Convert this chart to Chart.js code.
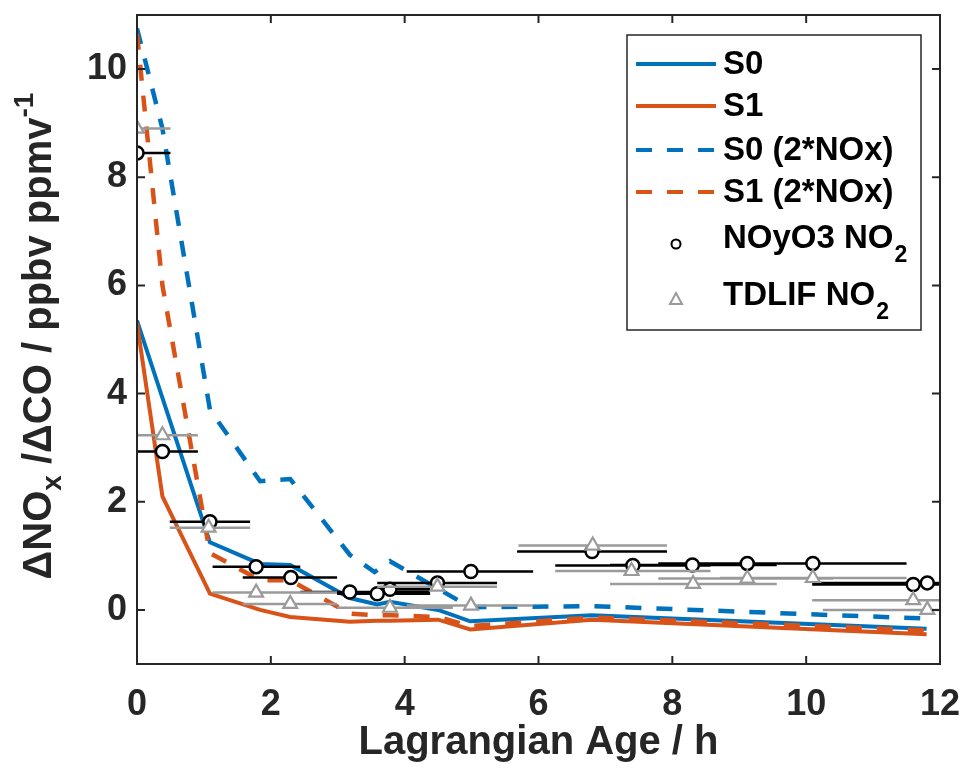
<!DOCTYPE html>
<html>
<head>
<meta charset="utf-8">
<script src="https://cdn.jsdelivr.net/npm/chart.js@4.4.1/dist/chart.umd.min.js"></script>
<style>
html, body { margin: 0; padding: 0; background: #fff; }
</style>
</head>
<body>
<canvas id="noxChart" width="966" height="771"></canvas>
<script>
// model runs (x = Lagrangian age in h)
var s0Age  = [0, 1.09, 1.84, 2.29, 3.18, 3.59, 3.78, 4.5, 4.98, 6.8, 11.8];
var s0Val  = [5.35, 1.25, 0.85, 0.83, 0.22, 0.1, 0.15, 0.0, -0.21, -0.1, -0.35];
var s1Age  = [0, 0.38, 1.09, 1.84, 2.29, 3.18, 3.59, 3.78, 4.5, 4.98, 6.8, 11.8];
var s1Val  = [5.3, 2.1, 0.3, 0.0, -0.13, -0.22, -0.2, -0.2, -0.18, -0.36, -0.18, -0.45];
var s0dAge = [0, 0.38, 1.09, 1.84, 2.29, 3.18, 3.55, 3.78, 4.98, 6.8, 11.8];
var s0dVal = [10.75, 8.9, 3.7, 2.38, 2.42, 1.02, 0.7, 0.9, 0.05, 0.07, -0.16];
var s1dAge = [0, 0.38, 1.09, 1.84, 2.29, 3.18, 3.59, 3.78, 4.5, 4.98, 6.8, 11.8];
var s1dVal = [10.65, 6.0, 1.05, 0.55, 0.55, -0.07, -0.1, -0.1, -0.13, -0.3, -0.14, -0.38];

// NOyO3 NO2 observations, with age range
var noyAge = [0, 0.38, 1.09, 1.78, 2.3, 3.18, 3.59, 3.78, 4.49, 4.99, 6.8, 7.41, 8.3, 9.12, 10.1, 11.6, 11.81];
var noyVal = [8.45, 2.93, 1.63, 0.8, 0.6, 0.33, 0.3, 0.38, 0.5, 0.71, 1.08, 0.82, 0.83, 0.86, 0.86, 0.47, 0.5];
var noyLo  = [0, 0, 0.49, 1.13, 1.58, 2.44, 2.99, 3.59, 3.59, 4.03, 5.68, 6.25, 7.07, 7.79, 8.71, 10.09, 10.09];
var noyHi  = [0.5, 0.91, 1.69, 2.44, 2.99, 4.38, 4.38, 4.38, 5.38, 5.92, 7.92, 8.57, 9.56, 10.4, 11.5, 12, 12];

// TDLIF NO2 observations
var tdAge = [0, 0.38, 1.07, 1.78, 2.29, 3.78, 4.49, 4.99, 6.81, 7.39, 8.31, 9.12, 10.1, 11.6, 11.81];
var tdVal = [8.9, 3.23, 1.52, 0.32, 0.11, 0.04, 0.43, 0.08, 1.19, 0.72, 0.48, 0.58, 0.59, 0.18, 0.0];
var tdLo  = [0, 0, 0.49, 1.13, 1.58, 2.99, 3.59, 4.03, 5.7, 6.25, 7.07, 7.79, 8.71, 10.09, 10.25];
var tdHi  = [0.5, 0.91, 1.69, 2.99, 2.99, 4.72, 5.38, 5.92, 7.92, 8.57, 9.56, 10.4, 11.5, 12, 12];

var xTicks = [0, 2, 4, 6, 8, 10, 12];
var yTicks = [0, 2, 4, 6, 8, 10];

var blue = "#0072BD";
var orange = "#D95319";
var grey = "#9a9a9a";
var FONT = "'Liberation Sans', Arial, sans-serif";

function pts(xs, ys) {
    var out = [];
    for (var i = 0; i < xs.length; i++) out.push({x: xs[i], y: ys[i]});
    return out;
}
// horizontal error bars, segments split by null
function bars(lo, hi, ys) {
    var out = [];
    for (var i = 0; i < ys.length; i++) {
        out.push({x: lo[i], y: ys[i]});
        out.push({x: hi[i], y: ys[i]});
        out.push({x: hi[i], y: null});
    }
    return out;
}

var matlabAxes = {
    id: "matlabAxes",
    afterDatasetsDraw: function (chart) {
        var ctx = chart.ctx, a = chart.chartArea;
        var xs = chart.scales.x, ys = chart.scales.y;
        ctx.save();
        ctx.strokeStyle = "#262626";
        ctx.lineWidth = 2;
        ctx.beginPath();
        xTicks.forEach(function (v) {
            var px = xs.getPixelForValue(v);
            ctx.moveTo(px, a.bottom); ctx.lineTo(px, a.bottom - 8);
            ctx.moveTo(px, a.top); ctx.lineTo(px, a.top + 8);
        });
        yTicks.forEach(function (v) {
            var py = ys.getPixelForValue(v);
            ctx.moveTo(a.left, py); ctx.lineTo(a.left + 8, py);
            ctx.moveTo(a.right, py); ctx.lineTo(a.right - 8, py);
        });
        ctx.stroke();
        ctx.strokeRect(a.left, a.top, a.right - a.left, a.bottom - a.top);
        ctx.restore();
    },
    afterDraw: function (chart) {
        var ctx = chart.ctx;
        // y axis title with sub/superscript
        ctx.save();
        ctx.translate(40, 336);
        ctx.rotate(-Math.PI / 2);
        ctx.fillStyle = "#262626";
        ctx.textBaseline = "middle";
        var parts = [
            {t: "\u0394NO", f: "bold 40px " + FONT, dy: 0},
            {t: "x", f: "bold 28px " + FONT, dy: 13},
            {t: " /\u0394CO / ppbv ppmv", f: "bold 40px " + FONT, dy: 0},
            {t: "-1", f: "bold 28px " + FONT, dy: -15}
        ];
        var total = 0;
        parts.forEach(function (p) { ctx.font = p.f; p.w = ctx.measureText(p.t).width; total += p.w; });
        var cx = -total / 2;
        parts.forEach(function (p) { ctx.font = p.f; ctx.fillText(p.t, cx, p.dy); cx += p.w; });
        ctx.restore();

        // legend
        ctx.save();
        ctx.fillStyle = "#fff";
        ctx.fillRect(627, 35, 294, 295);
        ctx.strokeStyle = "#262626";
        ctx.lineWidth = 1.5;
        ctx.strokeRect(627, 35, 294, 295);
        var rows = [
            {label: "S0", color: blue, dash: [], y: 64},
            {label: "S1", color: orange, dash: [], y: 106},
            {label: "S0 (2*NOx)", color: blue, dash: [16, 15], y: 150},
            {label: "S1 (2*NOx)", color: orange, dash: [16, 15], y: 192}
        ];
        ctx.font = "bold 33px " + FONT;
        ctx.textBaseline = "middle";
        rows.forEach(function (r) {
            ctx.strokeStyle = r.color;
            ctx.lineWidth = 4;
            ctx.setLineDash(r.dash);
            ctx.beginPath();
            ctx.moveTo(636, r.y); ctx.lineTo(716, r.y);
            ctx.stroke();
            ctx.setLineDash([]);
            ctx.fillStyle = "#000";
            ctx.fillText(r.label, 723, r.y + 1);
        });
        // circle marker row
        ctx.strokeStyle = "#000";
        ctx.lineWidth = 2;
        ctx.beginPath();
        ctx.arc(676, 244, 4.5, 0, 2 * Math.PI);
        ctx.stroke();
        // triangle marker row
        ctx.strokeStyle = grey;
        ctx.beginPath();
        ctx.moveTo(676, 293); ctx.lineTo(682, 304); ctx.lineTo(670, 304); ctx.closePath();
        ctx.stroke();
        ctx.fillStyle = "#000";
        var subRows = [{t: "NOyO3 NO", y: 239}, {t: "TDLIF NO", y: 296}];
        subRows.forEach(function (r) {
            ctx.font = "bold 33px " + FONT;
            ctx.fillText(r.t, 723, r.y);
            var w = ctx.measureText(r.t).width;
            ctx.font = "bold 23px " + FONT;
            ctx.fillText("2", 723 + w + 1, r.y + 17);
        });
        ctx.restore();
    }
};

var ctx = document.getElementById("noxChart").getContext("2d");
var noxChart = new Chart(ctx, {
    type: "scatter",
    data: {
        datasets: [
            {label: "S0", type: "line", data: pts(s0Age, s0Val), borderColor: blue, borderWidth: 4, pointRadius: 0, fill: false, order: 10},
            {label: "S1", type: "line", data: pts(s1Age, s1Val), borderColor: orange, borderWidth: 4, pointRadius: 0, fill: false, order: 9},
            {label: "S0 (2*NOx)", type: "line", data: pts(s0dAge, s0dVal), borderColor: blue, borderWidth: 4.5, borderDash: [16, 15], pointRadius: 0, fill: false, order: 8},
            {label: "S1 (2*NOx)", type: "line", data: pts(s1dAge, s1dVal), borderColor: orange, borderWidth: 4.5, borderDash: [16, 15], pointRadius: 0, fill: false, order: 7},
            {label: "NOyO3 bars", type: "line", data: bars(noyLo, noyHi, noyVal), borderColor: "#000", borderWidth: 2.5, pointRadius: 0, spanGaps: false, fill: false, order: 6},
            {label: "NOyO3 NO2", data: pts(noyAge, noyVal), pointStyle: "circle", pointRadius: 6.5, borderColor: "#000", borderWidth: 2.5, backgroundColor: "#fff", order: 5},
            {label: "TDLIF bars", type: "line", data: bars(tdLo, tdHi, tdVal), borderColor: grey, borderWidth: 2.5, pointRadius: 0, spanGaps: false, fill: false, order: 4},
            {label: "TDLIF NO2", data: pts(tdAge, tdVal), pointStyle: "triangle", pointRadius: 8, borderColor: grey, borderWidth: 2.2, backgroundColor: "#fff", order: 3}
        ]
    },
    options: {
        responsive: false,
        animation: false,
        layout: {padding: {left: 0, top: 15, right: 26, bottom: 0}},
        plugins: {legend: {display: false}, tooltip: {enabled: false}},
        elements: {line: {tension: 0}},
        scales: {
            x: {
                type: "linear", min: 0, max: 12,
                afterBuildTicks: function (scale) { scale.ticks = xTicks.map(function (v) { return {value: v}; }); },
                afterFit: function (scale) { scale.height = 107; scale.paddingLeft = 0; scale.paddingRight = 0; },
                grid: {display: false, drawTicks: false},
                border: {display: false},
                ticks: {padding: 19, color: "#262626", font: {family: FONT, size: 36, weight: "bold"}, maxRotation: 0},
                title: {display: true, text: "Lagrangian Age / h", color: "#262626", padding: {top: 0, bottom: 4}, font: {family: FONT, size: 40, weight: "bold"}}
            },
            y: {
                type: "linear", min: -1, max: 11,
                afterBuildTicks: function (scale) { scale.ticks = yTicks.map(function (v) { return {value: v}; }); },
                afterFit: function (scale) { scale.width = 137; scale.paddingTop = 0; scale.paddingBottom = 0; },
                grid: {display: false, drawTicks: false},
                border: {display: false},
                ticks: {padding: 10, color: "#262626", font: {family: FONT, size: 36, weight: "bold"}}
            }
        }
    },
    plugins: [matlabAxes]
});
</script>
</body>
</html>
